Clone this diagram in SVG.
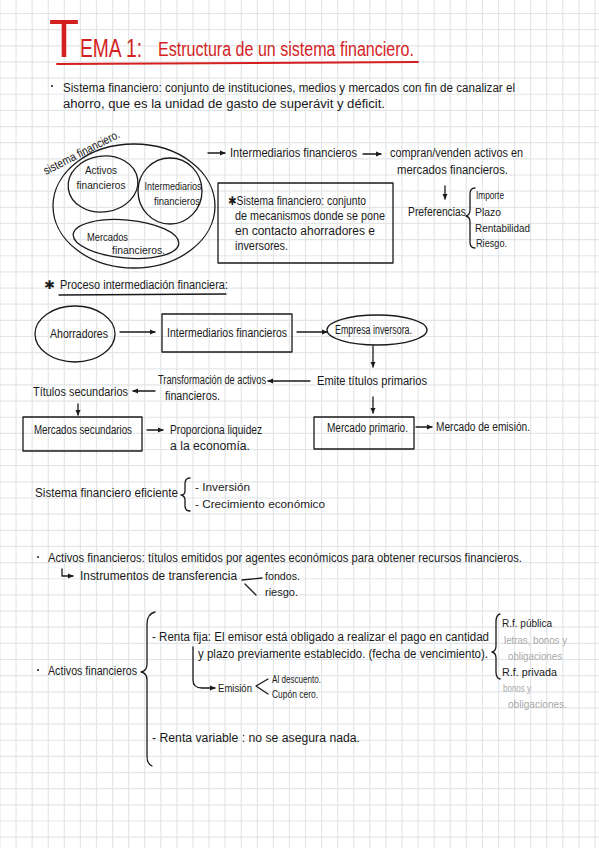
<svg xmlns="http://www.w3.org/2000/svg" width="599" height="848" viewBox="0 0 599 848">
<defs>
<style>
.t{font-family:"Liberation Sans",Arial,sans-serif;font-size:12px;fill:#1a1a1a}
.s{font-size:11px}
.g{fill:#a9a9a9;font-size:11px}
.r{fill:#d41f1f;font-family:"Liberation Sans",Arial,sans-serif}
.ln{stroke:#1a1a1a;stroke-width:1.3;fill:none;stroke-linecap:round;stroke-linejoin:round}
.grid{stroke:#e3e6e8;stroke-width:1.2;fill:none}
</style>
<marker id="ah" viewBox="0 0 8 8" refX="7" refY="4" markerWidth="6" markerHeight="6" orient="auto" markerUnits="userSpaceOnUse"><path d="M0,0.5 L8,4 L0,7.5 Z" fill="#1a1a1a"/></marker>
</defs>
<rect width="599" height="848" fill="#ffffff"/>
<path class="grid" d="M0 0V848M16.08 0V848M32.16 0V848M48.24 0V848M64.32 0V848M80.4 0V848M96.48 0V848M112.56 0V848M128.64 0V848M144.72 0V848M160.8 0V848M176.88 0V848M192.96 0V848M209.04 0V848M225.12 0V848M241.2 0V848M257.28 0V848M273.36 0V848M289.44 0V848M305.52 0V848M321.6 0V848M337.68 0V848M353.76 0V848M369.84 0V848M385.92 0V848M402 0V848M418.08 0V848M434.16 0V848M450.24 0V848M466.32 0V848M482.4 0V848M498.48 0V848M514.56 0V848M530.64 0V848M546.72 0V848M562.8 0V848M578.88 0V848M594.96 0V848M0 13.5H599M0 29.65H599M0 45.8H599M0 61.95H599M0 78.1H599M0 94.25H599M0 110.4H599M0 126.55H599M0 142.7H599M0 158.85H599M0 175H599M0 191.15H599M0 207.3H599M0 223.45H599M0 239.6H599M0 255.75H599M0 271.9H599M0 288.05H599M0 304.2H599M0 320.35H599M0 336.5H599M0 352.65H599M0 368.8H599M0 384.95H599M0 401.1H599M0 417.25H599M0 433.4H599M0 449.55H599M0 465.7H599M0 481.85H599M0 498H599M0 514.15H599M0 530.3H599M0 546.45H599M0 562.6H599M0 578.75H599M0 594.9H599M0 611.05H599M0 627.2H599M0 643.35H599M0 659.5H599M0 675.65H599M0 691.8H599M0 707.95H599M0 724.1H599M0 740.25H599M0 756.4H599M0 772.55H599M0 788.7H599M0 804.85H599M0 821H599M0 837.15H599"/>

<g id="title">
<text class="r" x="49" y="57" font-size="54" textLength="30" lengthAdjust="spacingAndGlyphs">T</text>
<text class="r" x="80" y="57" font-size="25" textLength="62" lengthAdjust="spacingAndGlyphs">EMA 1:</text>
<text class="r" x="158" y="56" font-size="20" textLength="256" lengthAdjust="spacingAndGlyphs">Estructura de un sistema financiero.</text>
<path d="M57 64 L418 62" stroke="#d41f1f" stroke-width="2" fill="none" stroke-linecap="round"/>
</g>

<g id="intro">
<circle cx="52" cy="86" r="1" fill="#1a1a1a"/>
<text class="t" x="63" y="92" textLength="452" lengthAdjust="spacingAndGlyphs">Sistema financiero: conjunto de instituciones, medios y mercados con fin de canalizar el</text>
<text class="t" x="63" y="108" textLength="322" lengthAdjust="spacingAndGlyphs">ahorro, que es la unidad de gasto de superávit y déficit.</text>
</g>

<g id="sistema-financiero">
<ellipse cx="134" cy="206" rx="81" ry="62" class="ln"/>
<text class="t" font-size="10" transform="translate(46 175) rotate(-27)" textLength="84" lengthAdjust="spacingAndGlyphs">sistema financiero.</text>
</g>
<g id="activos-financieros">
<ellipse cx="103" cy="184" rx="35" ry="28" transform="rotate(-8 103 184)" class="ln"/>
<text class="t s" x="101" y="174" text-anchor="middle" textLength="32" lengthAdjust="spacingAndGlyphs">Activos</text>
<text class="t s" x="101" y="189" text-anchor="middle" textLength="49" lengthAdjust="spacingAndGlyphs">financieros</text>
</g>
<g id="intermediarios-financieros">
<ellipse cx="170" cy="191" rx="32" ry="33" class="ln"/>
<text class="t s" x="173" y="190" text-anchor="middle" textLength="57" lengthAdjust="spacingAndGlyphs">Intermediarios</text>
<text class="t s" x="177" y="205" text-anchor="middle" textLength="46" lengthAdjust="spacingAndGlyphs">financieros</text>
</g>
<g id="mercados-financieros">
<ellipse cx="126" cy="239" rx="53" ry="19" transform="rotate(5 126 239)" class="ln"/>
<text class="t s" x="87" y="241" textLength="41" lengthAdjust="spacingAndGlyphs">Mercados</text>
<text class="t s" x="112" y="254" textLength="53" lengthAdjust="spacingAndGlyphs">financieros.</text>
</g>

<g id="nota-sistema">
<rect x="218" y="183" width="175" height="80" class="ln"/>
<text class="t" x="228" y="205" textLength="138" lengthAdjust="spacingAndGlyphs">✱Sistema financiero: conjunto</text>
<text class="t" x="235" y="220" textLength="150" lengthAdjust="spacingAndGlyphs">de mecanismos donde se pone</text>
<text class="t" x="235" y="235" textLength="140" lengthAdjust="spacingAndGlyphs">en contacto ahorradores e</text>
<text class="t" x="235" y="250" textLength="53" lengthAdjust="spacingAndGlyphs">inversores.</text>
</g>

<g id="intermediarios-def">
<text class="t" x="230" y="157" textLength="127" lengthAdjust="spacingAndGlyphs">Intermediarios financieros</text>
<text class="t" x="390" y="157" textLength="133" lengthAdjust="spacingAndGlyphs">compran/venden activos en</text>
<text class="t" x="397" y="174" textLength="111" lengthAdjust="spacingAndGlyphs">mercados financieros.</text>
</g>
<g id="preferencias">
<text class="t" x="408" y="216" textLength="58" lengthAdjust="spacingAndGlyphs">Preferencias</text>
<path class="ln" d="M475 188 Q470 188 470 194 L470 210 Q470 215 466 216 Q470 217 470 222 L470 242 Q470 248 475 248"/>
<text class="t s" x="476" y="199" textLength="28" lengthAdjust="spacingAndGlyphs">Importe</text>
<text class="t s" x="475" y="216" textLength="26" lengthAdjust="spacingAndGlyphs">Plazo</text>
<text class="t s" x="475" y="232" textLength="55" lengthAdjust="spacingAndGlyphs">Rentabilidad</text>
<text class="t s" x="476" y="247" textLength="31" lengthAdjust="spacingAndGlyphs">Riesgo.</text>
</g>

<g id="proceso-titulo">
<text class="t" x="44" y="289" font-size="10" textLength="11" lengthAdjust="spacingAndGlyphs">✱</text>
<text class="t" x="60" y="289" textLength="168" lengthAdjust="spacingAndGlyphs">Proceso intermediación financiera:</text>
<path class="ln" d="M59 295 L226 294"/>
</g>

<g id="ahorradores">
<ellipse cx="75" cy="334" rx="40" ry="28" class="ln"/>
<text class="t" x="79" y="338" text-anchor="middle" textLength="58" lengthAdjust="spacingAndGlyphs">Ahorradores</text>
</g>
<g id="intermediarios-box">
<rect x="162" y="314" width="130" height="38" class="ln"/>
<text class="t" x="167" y="337" textLength="120" lengthAdjust="spacingAndGlyphs">Intermediarios financieros</text>
</g>
<g id="empresa-inversora">
<ellipse cx="377" cy="330" rx="50" ry="15" class="ln"/>
<text class="t" x="335" y="334" textLength="77" lengthAdjust="spacingAndGlyphs">Empresa inversora.</text>
</g>
<g id="emite">
<text class="t" x="317" y="385" textLength="110" lengthAdjust="spacingAndGlyphs">Emite títulos primarios</text>
</g>
<g id="transformacion">
<text class="t" x="158" y="384" textLength="108" lengthAdjust="spacingAndGlyphs">Transformación de activos</text>
<text class="t" x="165" y="400" textLength="55" lengthAdjust="spacingAndGlyphs">financieros.</text>
</g>
<g id="titulos-secundarios">
<text class="t" x="33" y="396" textLength="95" lengthAdjust="spacingAndGlyphs">Títulos secundarios</text>
</g>
<g id="mercados-secundarios">
<rect x="23" y="417" width="119" height="34" class="ln"/>
<text class="t" x="34" y="434" textLength="98" lengthAdjust="spacingAndGlyphs">Mercados secundarios</text>
</g>
<g id="liquidez">
<text class="t" x="170" y="434" textLength="92" lengthAdjust="spacingAndGlyphs">Proporciona liquidez</text>
<text class="t" x="170" y="450" textLength="80" lengthAdjust="spacingAndGlyphs">a la economía.</text>
</g>
<g id="mercado-primario">
<rect x="314" y="417" width="100" height="32" class="ln"/>
<text class="t" x="327" y="432" textLength="81" lengthAdjust="spacingAndGlyphs">Mercado primario.</text>
</g>
<g id="mercado-emision">
<text class="t" x="436" y="431" textLength="94" lengthAdjust="spacingAndGlyphs">Mercado de emisión.</text>
</g>

<g id="eficiente">
<text class="t" x="35" y="497" textLength="143" lengthAdjust="spacingAndGlyphs">Sistema financiero eficiente</text>
<path class="ln" d="M190 478 Q185 478 185 484 L185 491 Q185 495 181 495 Q185 496 185 500 L185 506 Q185 511 190 511"/>
<text class="t s" x="195" y="491" textLength="55" lengthAdjust="spacingAndGlyphs">- Inversión</text>
<text class="t s" x="195" y="508" textLength="130" lengthAdjust="spacingAndGlyphs">- Crecimiento económico</text>
</g>

<g id="activos-def">
<circle cx="38" cy="557" r="1" fill="#1a1a1a"/>
<text class="t" x="48" y="562" textLength="474" lengthAdjust="spacingAndGlyphs">Activos financieros: títulos emitidos por agentes económicos para obtener recursos financieros.</text>
<text class="t" x="80" y="580" textLength="157" lengthAdjust="spacingAndGlyphs">Instrumentos de transferencia</text>
<text class="t s" x="265" y="580" textLength="35" lengthAdjust="spacingAndGlyphs">fondos.</text>
<text class="t s" x="265" y="596" textLength="33" lengthAdjust="spacingAndGlyphs">riesgo.</text>
</g>

<g id="activos-tipos">
<circle cx="38" cy="670" r="1" fill="#1a1a1a"/>
<text class="t" x="48" y="675" textLength="89" lengthAdjust="spacingAndGlyphs">Activos financieros</text>
<path class="ln" d="M155 612 Q147 614 147 624 L147 664 Q147 671 141 672 Q147 673 147 680 L147 756 Q147 764 152 766"/>
<text class="t" x="152" y="641" textLength="337" lengthAdjust="spacingAndGlyphs">- Renta fija: El emisor está obligado a realizar el pago en cantidad</text>
<text class="t" x="198" y="658" textLength="290" lengthAdjust="spacingAndGlyphs">y plazo previamente establecido. (fecha de vencimiento).</text>
<text class="t s" x="218" y="692" textLength="34" lengthAdjust="spacingAndGlyphs">Emisión</text>
<path class="ln" d="M268 679 L256 686 L268 694"/>
<text class="t s" x="272" y="683" textLength="49" lengthAdjust="spacingAndGlyphs">Al descuento.</text>
<text class="t s" x="272" y="698" textLength="46" lengthAdjust="spacingAndGlyphs">Cupón cero.</text>
<text class="t" x="152" y="742" textLength="208" lengthAdjust="spacingAndGlyphs">- Renta variable : no se asegura nada.</text>
</g>

<g id="renta-fija-tipos">
<path class="ln" d="M500 614 Q496 615 496 622 L496 646 Q496 651 492 652 Q496 653 496 658 L496 672 Q496 678 500 679"/>
<text class="t s" x="502" y="627" textLength="50" lengthAdjust="spacingAndGlyphs">R.f. pública</text>
<text class="t g" x="504" y="644" textLength="63" lengthAdjust="spacingAndGlyphs">letras, bonos y</text>
<text class="t g" x="508" y="660" textLength="54" lengthAdjust="spacingAndGlyphs">obligaciones</text>
<text class="t s" x="502" y="676" textLength="55" lengthAdjust="spacingAndGlyphs">R.f. privada</text>
<text class="t g" x="503" y="692" textLength="28" lengthAdjust="spacingAndGlyphs">bonos y</text>
<text class="t g" x="508" y="708" textLength="59" lengthAdjust="spacingAndGlyphs">obligaciones.</text>
</g>

<g id="connectors">
<path class="ln" d="M208 153 L225 153" marker-end="url(#ah)"/>
<path class="ln" d="M363 154 L381 154" marker-end="url(#ah)"/>
<path class="ln" d="M445 186 L445 199" marker-end="url(#ah)"/>
<path class="ln" d="M120 332 L155 332" marker-end="url(#ah)"/>
<path class="ln" d="M297 332 L327 332" marker-end="url(#ah)"/>
<path class="ln" d="M373 346 L373 367" marker-end="url(#ah)"/>
<path class="ln" d="M310 381 L268 381" marker-end="url(#ah)"/>
<path class="ln" d="M155 391 L133 391" marker-end="url(#ah)"/>
<path class="ln" d="M78 404 L78 415" marker-end="url(#ah)"/>
<path class="ln" d="M147 430 L163 430" marker-end="url(#ah)"/>
<path class="ln" d="M373 397 L373 413" marker-end="url(#ah)"/>
<path class="ln" d="M416 427 L432 427" marker-end="url(#ah)"/>
<path class="ln" d="M62 569 L62 576 L73 576" marker-end="url(#ah)"/>
<path class="ln" d="M242 580 L262 578"/>
<path class="ln" d="M245 584 L256 595"/>
<path class="ln" d="M193 647 L193 680 Q193 688 202 688 L215 688" marker-end="url(#ah)"/>
</g>
</svg>
